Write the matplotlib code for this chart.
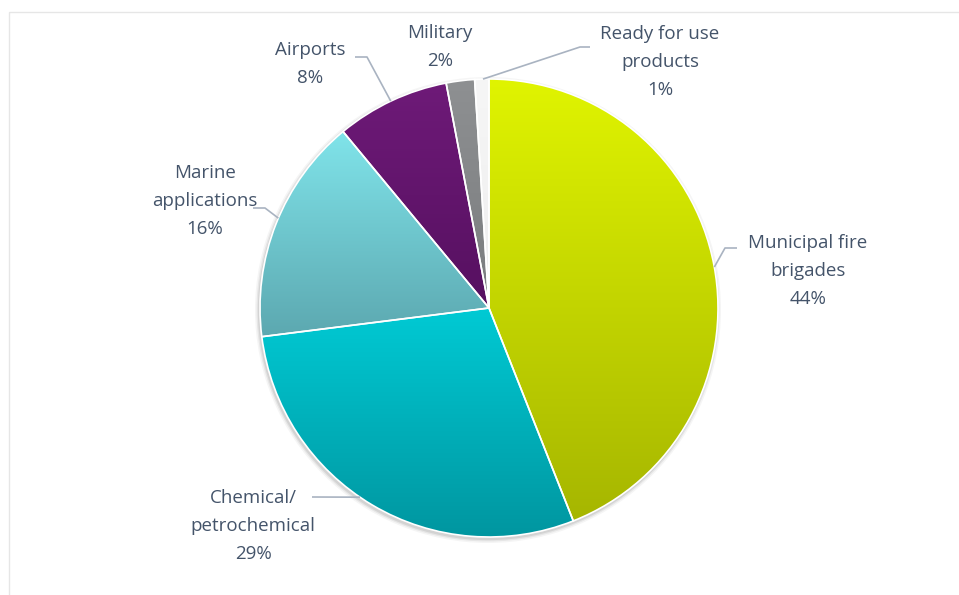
import numpy as np
import matplotlib
matplotlib.use("Agg")
import matplotlib.pyplot as plt
from matplotlib.colors import LinearSegmentedColormap
from matplotlib.patches import Rectangle

# data
labels = ["Municipal fire\nbrigades", "Chemical/\npetrochemical", "Marine\napplications",
          "Airports", "Military", "Ready for use\nproducts"]
shares = [44, 29, 16, 8, 2, 1]

# top / bottom colours of each slice gradient
top_colors = ["#e0f400", "#00cad4", "#80e4ea", "#6e1a78", "#8e9092", "#f6f6f6"]
bottom_colors = ["#a6b600", "#0096a0", "#5ca8b0", "#561060", "#7a7c7e", "#eeeeee"]

# label layout in pixels (text centre), leader line: rim angle, elbow, end
label_pos = [(808, 271), (253, 526), (205, 201), (310, 64), (440, 47), (660, 62)]
rim_angle = [10.3, -124.3, 156.9, 115.4, None, 91.5]   # degrees, y up
leader_elbow = [(725, 248), None, (265, 208), (367, 57), None, (580, 47)]
leader_end = [(737, 248), (312, 497), (253, 208), (355, 57), None, (590, 47)]

W, H = 959, 595
cx, cy, r = 489, 308, 229

fig = plt.figure(figsize=(W / 100, H / 100), dpi=100)
ax = fig.add_axes([0, 0, 1, 1])

# faint frame
ax.add_patch(Rectangle((9, 12), W + 20, H + 20, fill=False, ec="#e6e6e6", lw=1))

# soft shadow
for k, a in [(4, 0.04), (2.5, 0.06), (1.2, 0.08)]:
    ax.add_patch(plt.Circle((cx - 1, cy + 2), r + k, color="#000000", alpha=a, lw=0))

# y axis is inverted, so draw clockwise from top with counterclock=True
wedges, _ = ax.pie(shares, startangle=-90, counterclock=True, center=(cx, cy),
                   radius=r, wedgeprops=dict(lw=1.2, ec="white"), frame=True)

grad = np.linspace(0, 1, 256).reshape(-1, 1)
for w, c0, c1 in zip(wedges, top_colors, bottom_colors):
    cmap = LinearSegmentedColormap.from_list("g", [c0, c1])
    bb = w.get_path().get_extents(w.get_patch_transform())
    im = ax.imshow(grad, cmap=cmap, aspect="auto", interpolation="bilinear",
                   extent=(bb.x0, bb.x1, bb.y1, bb.y0), zorder=w.get_zorder())
    im.set_clip_path(w)

for w in wedges:
    w.set_facecolor("none")
    w.set_zorder(3)

ax.set_xlim(0, W)
ax.set_ylim(H, 0)
ax.set_aspect("equal")
ax.axis("off")

text_color = "#44546a"
line_color = "#a9b3c1"
for i, w in enumerate(wedges):
    txt = labels[i] + "\n" + f"{shares[i]}%"
    x, y = label_pos[i]
    ax.text(x, y, txt, ha="center", va="center", fontsize=13.5, color=text_color,
            family=["Open Sans", "DejaVu Sans"], linespacing=1.68, zorder=5)
    if rim_angle[i] is None:
        continue
    a = np.deg2rad(rim_angle[i])
    px, py = cx + r * np.cos(a), cy - r * np.sin(a)
    xs, ys = [px], [py]
    if leader_elbow[i] is not None:
        xs.append(leader_elbow[i][0])
        ys.append(leader_elbow[i][1])
    xs.append(leader_end[i][0])
    ys.append(leader_end[i][1])
    ax.plot(xs, ys, color=line_color, lw=1.2, zorder=4, solid_capstyle="butt")

fig.savefig("out.png", dpi=100, facecolor="white")
